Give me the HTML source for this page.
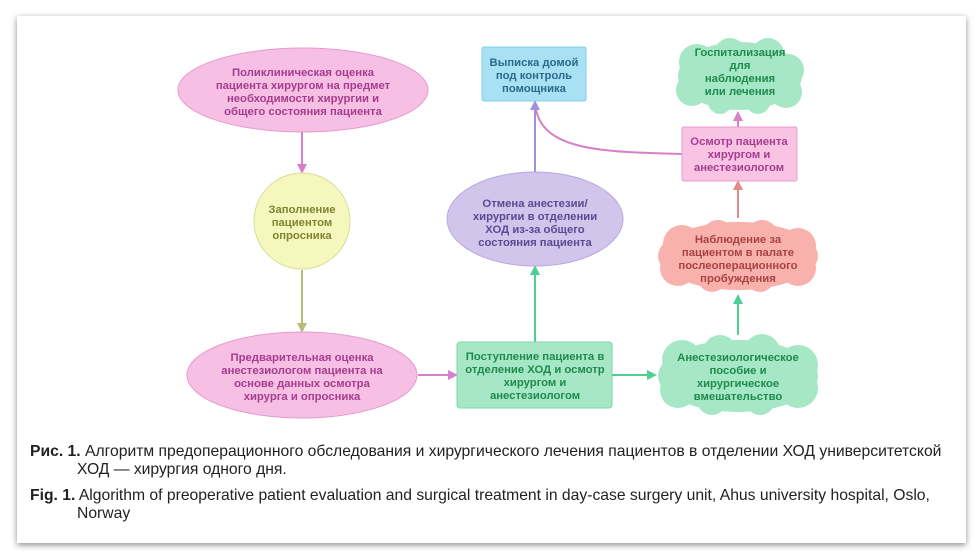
<!DOCTYPE html>
<html><head><meta charset="utf-8"><style>
body{margin:0;background:#fff;width:980px;height:560px;overflow:hidden;font-family:"Liberation Sans","Noto Sans CJK SC",sans-serif}
.card{position:absolute;left:17px;top:16px;width:949px;height:527px;background:#fff;box-shadow:0 2px 6px rgba(0,0,0,.45)}
.cap{position:absolute;left:30px;font-size:15.7px;color:#222;line-height:18px;width:940px;white-space:nowrap}
.cap b{font-weight:bold}
svg text{font-family:"Liberation Sans","Noto Sans CJK SC",sans-serif;font-size:11.3px;font-weight:bold;text-anchor:middle}
</style></head><body>
<div class="card"></div>
<svg width="980" height="560" style="position:absolute;left:0;top:0">
<defs>
<marker id="mp" markerWidth="10" markerHeight="10" refX="8" refY="5" orient="auto" markerUnits="userSpaceOnUse"><path d="M0,0L10,5L0,10z" fill="#d77fc8"/></marker>
<marker id="mo" markerWidth="10" markerHeight="10" refX="8" refY="5" orient="auto" markerUnits="userSpaceOnUse"><path d="M0,0L10,5L0,10z" fill="#b7bd78"/></marker>
<marker id="mg" markerWidth="10" markerHeight="10" refX="8" refY="5" orient="auto" markerUnits="userSpaceOnUse"><path d="M0,0L10,5L0,10z" fill="#4fcf96"/></marker>
<marker id="mv" markerWidth="10" markerHeight="10" refX="8" refY="5" orient="auto" markerUnits="userSpaceOnUse"><path d="M0,0L10,5L0,10z" fill="#a290d8"/></marker>
<marker id="mr" markerWidth="10" markerHeight="10" refX="8" refY="5" orient="auto" markerUnits="userSpaceOnUse"><path d="M0,0L10,5L0,10z" fill="#e08a8a"/></marker>
</defs>
<line x1="302" y1="132" x2="302" y2="172" stroke="#d77fc8" stroke-width="2" marker-end="url(#mp)"/>
<line x1="302" y1="270" x2="302" y2="331" stroke="#b7bd78" stroke-width="2" marker-end="url(#mo)"/>
<line x1="418" y1="375" x2="456" y2="375" stroke="#d77fc8" stroke-width="2" marker-end="url(#mp)"/>
<line x1="612" y1="375" x2="655" y2="375" stroke="#4fcf96" stroke-width="2" marker-end="url(#mg)"/>
<line x1="535" y1="342" x2="535" y2="267" stroke="#4fcf96" stroke-width="2" marker-end="url(#mg)"/>
<line x1="535" y1="172" x2="535" y2="102" stroke="#a290d8" stroke-width="2" marker-end="url(#mv)"/>
<line x1="738" y1="335" x2="738" y2="296" stroke="#4fcf96" stroke-width="2" marker-end="url(#mg)"/>
<line x1="738" y1="218" x2="738" y2="182" stroke="#e08a8a" stroke-width="2" marker-end="url(#mr)"/>
<line x1="738" y1="127" x2="738" y2="113" stroke="#d77fc8" stroke-width="2" marker-end="url(#mp)"/>
<path d="M682,154 C600,152 545,150 536,110" fill="none" stroke="#d77fc8" stroke-width="2"/>
<ellipse cx="303" cy="90" rx="125" ry="42" fill="#f7bfe3" stroke="#e59bd0"/>
<text fill="#a53d8f"><tspan x="303" y="76">Поликлиническая оценка</tspan><tspan x="303" y="89">пациента хирургом на предмет</tspan><tspan x="303" y="102">необходимости хирургии и</tspan><tspan x="303" y="115">общего состояния пациента</tspan></text>
<circle cx="302" cy="221" r="48" fill="#f6f7bd" stroke="#d9dd9a"/>
<text fill="#7f8431"><tspan x="302" y="213">Заполнение</tspan><tspan x="302" y="226">пациентом</tspan><tspan x="302" y="239">опросника</tspan></text>
<ellipse cx="302" cy="375" rx="115" ry="43" fill="#f7bfe3" stroke="#e59bd0"/>
<text fill="#a53d8f"><tspan x="302" y="361">Предварительная оценка</tspan><tspan x="302" y="374">анестезиологом пациента на</tspan><tspan x="302" y="387">основе данных осмотра</tspan><tspan x="302" y="400">хирурга и опросника</tspan></text>
<rect x="457" y="342" width="155" height="66" rx="3" fill="#a6e8c6" stroke="#7fd9ab"/>
<text fill="#1f8a4c"><tspan x="535" y="360">Поступление пациента в</tspan><tspan x="535" y="373">отделение ХОД и осмотр</tspan><tspan x="535" y="386">хирургом и</tspan><tspan x="535" y="399">анестезиологом</tspan></text>
<g fill="#a6e8c6"><ellipse cx="738" cy="376" rx="80" ry="36"/><circle cx="682" cy="360" r="20"/><circle cx="720" cy="352" r="17"/><circle cx="762" cy="352" r="18"/><circle cx="798" cy="365" r="20"/><circle cx="798" cy="388" r="20"/><circle cx="760" cy="400" r="15"/><circle cx="712" cy="400" r="15"/><circle cx="678" cy="390" r="18"/></g>
<text fill="#1f8a4c"><tspan x="738" y="361">Анестезиологическое</tspan><tspan x="738" y="374">пособие и</tspan><tspan x="738" y="387">хирургическое</tspan><tspan x="738" y="400">вмешательство</tspan></text>
<g fill="#f8b1ac"><ellipse cx="738" cy="256" rx="80" ry="34"/><circle cx="682" cy="244" r="19"/><circle cx="718" cy="236" r="16"/><circle cx="762" cy="236" r="16"/><circle cx="798" cy="246" r="18"/><circle cx="798" cy="268" r="18"/><circle cx="760" cy="278" r="14"/><circle cx="712" cy="278" r="14"/><circle cx="678" cy="268" r="18"/></g>
<text fill="#a94343"><tspan x="738" y="243">Наблюдение за</tspan><tspan x="738" y="256">пациентом в палате</tspan><tspan x="738" y="269">послеоперационного</tspan><tspan x="738" y="282">пробуждения</tspan></text>
<rect x="682" y="127" width="115" height="54" rx="2" fill="#f9c3e4" stroke="#e99bd0"/>
<text fill="#a53d8f"><tspan x="739" y="145">Осмотр пациента</tspan><tspan x="739" y="158">хирургом и</tspan><tspan x="739" y="171">анестезиологом</tspan></text>
<g fill="#a6e8c6"><ellipse cx="740" cy="76" rx="62" ry="34"/><circle cx="697" cy="62" r="18"/><circle cx="730" cy="54" r="16"/><circle cx="768" cy="54" r="16"/><circle cx="788" cy="70" r="16"/><circle cx="786" cy="92" r="16"/><circle cx="758" cy="102" r="12"/><circle cx="720" cy="102" r="12"/><circle cx="692" cy="90" r="16"/></g>
<text fill="#1f8a4c"><tspan x="740" y="56">Госпитализация</tspan><tspan x="740" y="69">для</tspan><tspan x="740" y="82">наблюдения</tspan><tspan x="740" y="95">или лечения</tspan></text>
<rect x="482" y="47" width="104" height="54" rx="2" fill="#a9e1f4" stroke="#85cfe8"/>
<text fill="#2a6a8a"><tspan x="534" y="66">Выписка домой</tspan><tspan x="534" y="79">под контроль</tspan><tspan x="534" y="92">помощника</tspan></text>
<ellipse cx="535" cy="219" rx="88" ry="47" fill="#d2c5ec" stroke="#b9a7e0"/>
<text fill="#5a4a93"><tspan x="535" y="207">Отмена анестезии/</tspan><tspan x="535" y="220">хирургии в отделении</tspan><tspan x="535" y="233">ХОД из-за общего</tspan><tspan x="535" y="246">состояния пациента</tspan></text>
</svg>
<div class="cap" style="top:443px"><b>Рис. 1.</b> Алгоритм предоперационного обследования и хирургического лечения пациентов в отделении ХОД университетской<br><span style="padding-left:47px">ХОД — хирургия одного дня.</span></div>
<div class="cap" style="top:487px"><b>Fig. 1.</b> Algorithm of preoperative patient evaluation and surgical treatment in day-case surgery unit, Ahus university hospital, Oslo,<br><span style="padding-left:47px">Norway</span></div>
</body></html>
